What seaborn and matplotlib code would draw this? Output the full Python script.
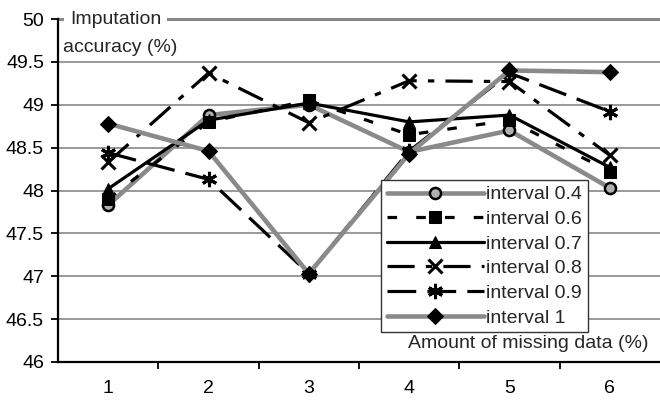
import matplotlib
matplotlib.use("Agg")
import matplotlib.pyplot as plt
import seaborn as sns
import numpy as np

sns.set_theme(style="white")
plt.rcParams['font.family'] = ['Liberation Sans', 'DejaVu Sans']

missing = [1, 2, 3, 4, 5, 6]
labels = ["interval 0.4", "interval 0.6", "interval 0.7",
          "interval 0.8", "interval 0.9", "interval 1"]
acc_04 = [47.83, 48.88, 49.00, 48.45, 48.70, 48.03]
acc_06 = [47.90, 48.80, 49.05, 48.65, 48.82, 48.22]
acc_07 = [48.02, 48.82, 49.02, 48.80, 48.88, 48.27]
acc_08 = [48.33, 49.37, 48.79, 49.28, 49.27, 48.41]
acc_09 = [48.44, 48.13, 47.03, 48.46, 49.37, 48.92]
acc_10 = [48.78, 48.46, 47.03, 48.43, 49.40, 49.38]
yticks = [46, 46.5, 47, 47.5, 48, 48.5, 49, 49.5, 50]

FS = 14
gray = "#8a8a8a"
styles = [
    dict(color=gray, lw=3.3, linestyle="-", marker="o", markersize=8,
         markerfacecolor="#b0b0b0", markeredgecolor="black", markeredgewidth=1.8),
    dict(color="black", lw=2.3, linestyle=(0, (3.0, 6.0)), marker="s", markersize=8,
         markerfacecolor="black", markeredgecolor="black"),
    dict(color="black", lw=2.3, linestyle="-", marker="^", markersize=9,
         markerfacecolor="black", markeredgecolor="black"),
    dict(color="black", lw=2.3, linestyle=(0, (8.5, 3.5, 2.0, 3.5)), marker="x",
         markersize=10, markeredgewidth=2.2, markeredgecolor="black"),
    dict(color="black", lw=2.3, linestyle=(0, (9.0, 3.5)), marker=(6, 2, 0),
         markersize=11, markeredgewidth=2.2, markeredgecolor="black"),
    dict(color=gray, lw=3.3, linestyle="-", marker="D", markersize=8.5,
         markerfacecolor="black", markeredgecolor="black"),
]
series = [acc_04, acc_06, acc_07, acc_08, acc_09, acc_10]

fig = plt.figure(figsize=(6.6, 4.01), dpi=100)
ax = fig.add_axes([58 / 660, 39 / 401, 602 / 660, 343 / 401])

for vals, lab, st in zip(series, labels, styles):
    sns.lineplot(x=missing, y=vals, ax=ax, label=lab, **st)

ax.set_xlim(0.5, 6.5)
ax.set_ylim(46, 50)
ax.set_yticks(yticks)
ax.set_yticklabels([f"{v:g}" for v in yticks], fontsize=FS, color="black")
ax.set_xticks(missing)
ax.set_xticklabels([str(m) for m in missing], fontsize=FS, color="black")
ax.set_xticks([1.5, 2.5, 3.5, 4.5, 5.5], minor=True)
ax.tick_params(axis="x", which="major", length=0, pad=13)
ax.tick_params(axis="x", which="minor", length=5, width=1.3, color="black",
               direction="out", bottom=True)
ax.tick_params(axis="y", length=5, width=1.3, color="black", direction="out",
               left=True, pad=5)

for v in yticks[1:-1]:
    ax.axhline(v, color="#888888", lw=1.2, zorder=0)
ax.axhline(50, color="#888888", lw=2.2, zorder=0, clip_on=False)

for side in ["top", "right"]:
    ax.spines[side].set_visible(False)
for side in ["left", "bottom"]:
    ax.spines[side].set_color("black")
    ax.spines[side].set_linewidth(1.6)
ax.grid(False)
ax.set_xlabel("")
ax.set_ylabel("")

ax.text((70 - 58) / 602, 1.0, "Imputation", transform=ax.transAxes, fontsize=FS,
        ha="left", va="center", zorder=5,
        bbox=dict(facecolor="white", edgecolor="none", pad=4))
ax.text((63 - 58) / 602, (362 - 48) / 343, "accuracy (%)", transform=ax.transAxes,
        fontsize=FS, ha="left", va="center", zorder=5)
ax.text((648 - 58) / 602, (362 - 343) / 343, "Amount of missing data (%)",
        transform=ax.transAxes, fontsize=FS, ha="right", va="center", zorder=5)

leg = ax.legend(loc="upper left", bbox_to_anchor=(0.5365, 0.5306), borderaxespad=0,
                fontsize=FS, handlelength=5.0, handletextpad=0.1,
                labelspacing=0.36, borderpad=0.3, fancybox=False, framealpha=1,
                edgecolor="#333333")
leg.get_frame().set_linewidth(1.0)
leg.set_zorder(10)

fig.savefig("out.png", dpi=100)
